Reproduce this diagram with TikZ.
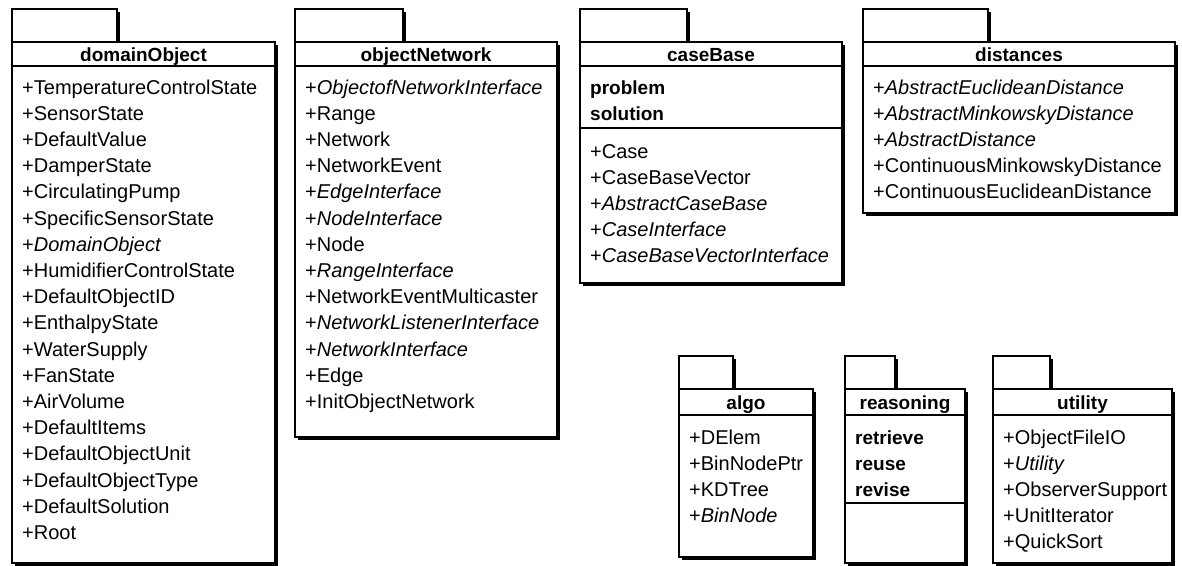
\documentclass[tikz,border=0pt]{standalone}
\usepackage{fontspec}
\setmainfont{Liberation Sans}
\newcommand{\itemfont}{\fontsize{20}{24}\selectfont}
\newcommand{\headfont}{\fontsize{19}{23}\selectfont\bfseries}
% UML package frame: left, right, tab right, tab top, body top, title rule, bottom
\newcommand{\pkgframe}[7]{%
  \fill[black] ({#1+3},{#4+3}) rectangle ({#3+3},{#5+3});
  \fill[black] ({#1+3},{#5+3}) rectangle ({#2+3},{#7+3});
  \draw[frame] (#1,#4) rectangle (#3,#5);
  \draw[frame] (#1,#5) rectangle (#2,#7);
  \draw[frame] (#1,#6) -- (#2,#6);
}
\begin{document}
\begin{tikzpicture}[x=1pt,y=-1pt,
  frame/.style={draw=black,line width=1.2pt,fill=white},
  sepline/.style={draw=black,line width=1.2pt},
  pkgtitle/.style={font=\headfont,anchor=base,inner sep=0pt},
  member/.style={font=\itemfont,anchor=base west,inner sep=0pt},
  opname/.style={font=\headfont,anchor=base west,inner sep=0pt}]
\useasboundingbox (0,0) rectangle (1182,565);

% ---------- domainObject ----------
\pkgframe{12}{275}{117}{9}{42}{66}{563}
\node[pkgtitle] (domT) at (143.5,61) {domainObject};
\foreach \t [count=\i] in {TemperatureControlState,SensorState,DefaultValue,DamperState,
  CirculatingPump,SpecificSensorState,\textit{DomainObject},HumidifierControlState,
  DefaultObjectID,EnthalpyState,WaterSupply,FanState,AirVolume,DefaultItems,
  DefaultObjectUnit,DefaultObjectType,DefaultSolution,Root}
  \node[member] (dom-\i) at (22,{94+(\i-1)*26.2}) {+\t};

% ---------- objectNetwork ----------
\pkgframe{295}{557}{403}{9}{42}{66}{437}
\node[pkgtitle] (netT) at (426,61) {objectNetwork};
\foreach \t [count=\i] in {\textit{ObjectofNetworkInterface},Range,Network,NetworkEvent,
  \textit{EdgeInterface},\textit{NodeInterface},Node,\textit{RangeInterface},
  NetworkEventMulticaster,\textit{NetworkListenerInterface},\textit{NetworkInterface},
  Edge,InitObjectNetwork}
  \node[member] (net-\i) at (305,{94+(\i-1)*26.2}) {+\t};

% ---------- caseBase ----------
\pkgframe{580}{842}{687}{9}{42}{66}{283}
\node[pkgtitle] (cbT) at (711,61) {caseBase};
\node[opname] (cb-problem) at (590,94) {problem};
\node[opname] (cb-solution) at (590,120) {solution};
\draw[sepline] (580,128) -- (842,128);
\foreach \t [count=\i] in {Case,CaseBaseVector,\textit{AbstractCaseBase},
  \textit{CaseInterface},\textit{CaseBaseVectorInterface}}
  \node[member] (cb-\i) at (590,{158+(\i-1)*26.2}) {+\t};

% ---------- distances ----------
\pkgframe{863}{1175}{988}{9}{42}{66}{213}
\node[pkgtitle] (distT) at (1019,61) {distances};
\foreach \t [count=\i] in {\textit{AbstractEuclideanDistance},\textit{AbstractMinkowskyDistance},
  \textit{AbstractDistance},ContinuousMinkowskyDistance,ContinuousEuclideanDistance}
  \node[member] (dist-\i) at (873,{94+(\i-1)*26.2}) {+\t};

% ---------- algo ----------
\pkgframe{679}{813}{733}{356}{389}{415}{557}
\node[pkgtitle] (algoT) at (746,409) {algo};
\foreach \t [count=\i] in {DElem,BinNodePtr,KDTree,\textit{BinNode}}
  \node[member] (algo-\i) at (689,{444+(\i-1)*26.2}) {+\t};

% ---------- reasoning ----------
\pkgframe{845}{965}{895}{356}{389}{415}{563}
\node[pkgtitle] (reaT) at (905,409) {reasoning};
\node[opname] (rea-1) at (855,444) {retrieve};
\node[opname] (rea-2) at (855,470.2) {reuse};
\node[opname] (rea-3) at (855,496.4) {revise};
\draw[sepline] (845,503) -- (965,503);

% ---------- utility ----------
\pkgframe{993}{1172}{1050}{356}{389}{415}{563}
\node[pkgtitle] (utilT) at (1082.5,409) {utility};
\foreach \t [count=\i] in {ObjectFileIO,\textit{Utility},ObserverSupport,UnitIterator,QuickSort}
  \node[member] (util-\i) at (1003,{444+(\i-1)*26.2}) {+\t};
\end{tikzpicture}
\end{document}
